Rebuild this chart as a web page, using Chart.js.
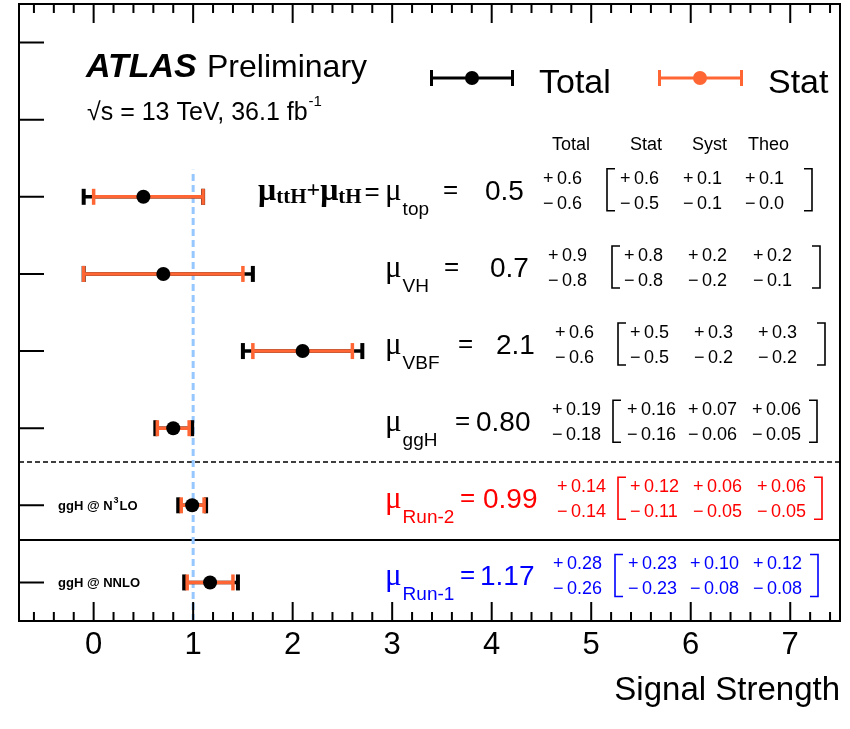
<!DOCTYPE html>
<html>
<head>
<meta charset="utf-8">
<script src="https://cdn.jsdelivr.net/npm/chart.js@4"></script>
<style>
  html, body { margin: 0; padding: 0; background: #fff; }
  #wrap { width: 850px; height: 729px; }
</style>
</head>
<body>
<div id="wrap"><canvas id="chart_mu" width="850" height="729"></canvas></div>
<script>
// signal strength per production mode, top row first
const rowSubs = ['top', 'VH', 'VBF', 'ggH', 'Run-2', 'Run-1'];
const rowY = [5.5, 4.5, 3.5, 2.5, 1.5, 0.5];
const muValues = [0.5, 0.7, 2.1, 0.80, 0.99, 1.17];
const decimals = [1, 1, 1, 2, 2, 2];
const totalUp = [0.6, 0.9, 0.6, 0.19, 0.14, 0.28];
const totalDown = [0.6, 0.8, 0.6, 0.18, 0.14, 0.26];
const statUp = [0.6, 0.8, 0.5, 0.16, 0.12, 0.23];
const statDown = [0.5, 0.8, 0.5, 0.16, 0.11, 0.23];
const systUp = [0.1, 0.2, 0.3, 0.07, 0.06, 0.10];
const systDown = [0.1, 0.2, 0.2, 0.06, 0.05, 0.08];
const theoUp = [0.1, 0.2, 0.3, 0.06, 0.06, 0.12];
const theoDown = [0.0, 0.1, 0.2, 0.05, 0.05, 0.08];
const rowColors = ['#000', '#000', '#000', '#000', '#ff0000', '#0000ff'];

const xLabels = [0, 1, 2, 3, 4, 5, 6, 7];
const yTicks = [0.5, 1.5, 2.5, 3.5, 4.5, 5.5, 6.5, 7.5];
const smValue = 1;
const smLineTop = 5.85;
const dashedSep = 2.06;
const solidSep = 1.05;

const ORANGE = '#ff6633';
const SANS = '"Liberation Sans", Arial, sans-serif';
const SERIF = '"Liberation Serif", "Times New Roman", serif';

// text columns, pixel x for each row
const eqX = [443, 444, 458, 455, 460, 460];
const valX = [485, 490, 496, 476, 483, 480];
const totX = [543, 548, 555, 552, 557, 553];
const lbX = [607, 612, 618, 613, 618, 615];
const statX = [620, 624, 630, 627, 630, 628];
const systX = [683, 688, 694, 688, 693, 690];
const theoX = [745, 753, 758, 752, 757, 753];
const rbX = [812, 820, 825, 817, 822, 818];

// error bars as broken line series: two ends then a gap
function barData(up, down) {
  const out = [];
  muValues.forEach((m, i) => {
    out.push({x: m - down[i], y: rowY[i]});
    out.push({x: m + up[i], y: rowY[i]});
    out.push({x: null, y: null});
  });
  return out;
}

function txt(ctx, s, x, y, font, color, align) {
  ctx.font = font;
  ctx.fillStyle = color || '#000';
  ctx.textAlign = align || 'left';
  ctx.textBaseline = 'alphabetic';
  ctx.fillText(s, x, y);
  return x + ctx.measureText(s).width;
}

function signed(ctx, sign, v, dec, x, y, color) {
  txt(ctx, sign, x, y, '18px ' + SANS, color);
  txt(ctx, v.toFixed(dec), x + 14, y, '18px ' + SANS, color);
}

function bracket(ctx, x, yc, left, color) {
  const d = left ? 8 : -8;
  ctx.strokeStyle = color;
  ctx.lineWidth = 1.6;
  ctx.beginPath();
  ctx.moveTo(x + d, yc - 28);
  ctx.lineTo(x, yc - 28);
  ctx.lineTo(x, yc + 14);
  ctx.lineTo(x + d, yc + 14);
  ctx.stroke();
}

const framePlugin = {
  id: 'frame',
  beforeDatasetsDraw(chart) {
    const {ctx, chartArea: a, scales: {y}} = chart;
    ctx.save();
    ctx.strokeStyle = '#000';
    ctx.lineWidth = 1.5;
    ctx.setLineDash([5, 3]);
    ctx.beginPath();
    ctx.moveTo(a.left, y.getPixelForValue(dashedSep));
    ctx.lineTo(a.right, y.getPixelForValue(dashedSep));
    ctx.stroke();
    ctx.setLineDash([]);
    ctx.lineWidth = 2;
    ctx.beginPath();
    ctx.moveTo(a.left, y.getPixelForValue(solidSep));
    ctx.lineTo(a.right, y.getPixelForValue(solidSep));
    ctx.stroke();
    ctx.restore();
  },
  afterDatasetsDraw(chart) {
    const {ctx, chartArea: a, scales: {x, y}} = chart;
    ctx.save();
    ctx.strokeStyle = '#000';
    ctx.lineWidth = 2;
    ctx.strokeRect(a.left, a.top, a.right - a.left, a.bottom - a.top);

    // inward ticks on bottom and top, minor every 0.2
    ctx.beginPath();
    for (let k = -3; k <= 37; k++) {
      const px = x.getPixelForValue(k * 0.2);
      const len = (k % 5 === 0) ? 19 : 9;
      ctx.moveTo(px, a.bottom); ctx.lineTo(px, a.bottom - len);
      ctx.moveTo(px, a.top); ctx.lineTo(px, a.top + len);
    }
    yTicks.forEach(v => {
      const py = y.getPixelForValue(v);
      ctx.moveTo(a.left, py); ctx.lineTo(a.left + 25, py);
    });
    ctx.stroke();

    // title block
    txt(ctx, 'ATLAS', 86, 77, 'italic bold 34px ' + SANS);
    txt(ctx, 'Preliminary', 207, 77, '32px ' + SANS);
    let e = txt(ctx, '\u221As = 13 TeV, 36.1 fb', 87, 120, '25px ' + SANS);
    txt(ctx, '-1', e + 1, 106, '15px ' + SANS);

    // legend
    const ly = 78;
    ctx.lineWidth = 3;
    ctx.strokeStyle = '#000';
    ctx.beginPath();
    ctx.moveTo(430, ly); ctx.lineTo(514, ly);
    ctx.moveTo(431.5, ly - 8); ctx.lineTo(431.5, ly + 8);
    ctx.moveTo(512.5, ly - 8); ctx.lineTo(512.5, ly + 8);
    ctx.stroke();
    ctx.fillStyle = '#000';
    ctx.beginPath(); ctx.arc(472, ly, 7, 0, Math.PI * 2); ctx.fill();
    txt(ctx, 'Total', 539, 93, '34px ' + SANS);
    ctx.strokeStyle = ORANGE;
    ctx.beginPath();
    ctx.moveTo(658, ly); ctx.lineTo(743, ly);
    ctx.moveTo(659.5, ly - 8); ctx.lineTo(659.5, ly + 8);
    ctx.moveTo(741.5, ly - 8); ctx.lineTo(741.5, ly + 8);
    ctx.stroke();
    ctx.fillStyle = ORANGE;
    ctx.beginPath(); ctx.arc(700, ly, 7, 0, Math.PI * 2); ctx.fill();
    txt(ctx, 'Stat', 768, 93, '34px ' + SANS);

    // column headers
    txt(ctx, 'Total', 552, 150, '18px ' + SANS);
    txt(ctx, 'Stat', 630, 150, '18px ' + SANS);
    txt(ctx, 'Syst', 692, 150, '18px ' + SANS);
    txt(ctx, 'Theo', 748, 150, '18px ' + SANS);

    // left-hand labels for the two ggH entries
    const n3 = y.getPixelForValue(rowY[4]) + 5;
    e = txt(ctx, 'ggH @ N', 58, n3, 'bold 13px ' + SANS);
    e = txt(ctx, '3', e + 1, n3 - 7, 'bold 9px ' + SANS);
    txt(ctx, 'LO', e + 1, n3, 'bold 13px ' + SANS);
    txt(ctx, 'ggH @ NNLO', 58, y.getPixelForValue(rowY[5]) + 5, 'bold 13px ' + SANS);

    // ttH + tH label
    const yt = y.getPixelForValue(rowY[0]) + 3;
    e = txt(ctx, '\u03BC', 258, yt, 'bold 32px ' + SERIF);
    e = txt(ctx, 'ttH', e, yt + 3, 'bold 21px ' + SERIF);
    e = txt(ctx, '+', e, yt - 3, 'bold 24px ' + SERIF);
    e = txt(ctx, '\u03BC', e, yt, 'bold 32px ' + SERIF);
    e = txt(ctx, 'tH', e, yt + 3, 'bold 21px ' + SERIF);
    txt(ctx, '=', e + 3, yt, '26px ' + SANS);

    // per-row result and uncertainty table
    rowSubs.forEach((sub, i) => {
      const yc = y.getPixelForValue(rowY[i]);
      const c = rowColors[i];
      const e2 = txt(ctx, '\u03BC', 385, yc + 3, '31px ' + SERIF, c);
      txt(ctx, sub, e2 + 1, yc + 18, '19px ' + SANS, c);
      txt(ctx, '=', eqX[i], yc + 1, '26px ' + SANS, c);
      txt(ctx, muValues[i].toFixed(decimals[i]), valX[i], yc + 3, '28px ' + SANS, c);
      const d = decimals[i];
      const up = yc - 13, lo = yc + 12;
      signed(ctx, '+', totalUp[i], d, totX[i], up, c);
      signed(ctx, '\u2212', totalDown[i], d, totX[i], lo, c);
      signed(ctx, '+', statUp[i], d, statX[i], up, c);
      signed(ctx, '\u2212', statDown[i], d, statX[i], lo, c);
      signed(ctx, '+', systUp[i], d, systX[i], up, c);
      signed(ctx, '\u2212', systDown[i], d, systX[i], lo, c);
      signed(ctx, '+', theoUp[i], d, theoX[i], up, c);
      signed(ctx, '\u2212', theoDown[i], d, theoX[i], lo, c);
      bracket(ctx, lbX[i], yc, true, c);
      bracket(ctx, rbX[i], yc, false, c);
    });
    ctx.restore();
  }
};

const capStyle = {
  showLine: true,
  spanGaps: false,
  pointStyle: 'line',
  pointRotation: 90,
  pointRadius: 8,
  pointHoverRadius: 8
};

new Chart(document.getElementById('chart_mu').getContext('2d'), {
  type: 'scatter',
  data: {
    datasets: [
      {
        label: 'mu',
        data: muValues.map((m, i) => ({x: m, y: rowY[i]})),
        backgroundColor: '#000',
        borderWidth: 0,
        pointRadius: 7,
        pointHoverRadius: 7,
        order: 0
      },
      Object.assign({
        label: 'Stat',
        data: barData(statUp, statDown),
        borderColor: ORANGE,
        borderWidth: 3.5,
        pointBorderColor: ORANGE,
        pointBorderWidth: 3.5,
        order: 1
      }, capStyle),
      Object.assign({
        label: 'Total',
        data: barData(totalUp, totalDown),
        borderColor: '#000',
        borderWidth: 3.5,
        pointBorderColor: '#000',
        pointBorderWidth: 4,
        order: 2
      }, capStyle),
      {
        label: 'SM',
        data: [{x: smValue, y: 0}, {x: smValue, y: smLineTop}],
        showLine: true,
        borderColor: '#96c8ff',
        borderWidth: 3,
        borderDash: [7, 4],
        pointRadius: 0,
        order: 3
      }
    ]
  },
  options: {
    responsive: false,
    animation: false,
    devicePixelRatio: 1,
    layout: {autoPadding: false, padding: {left: 19, right: 10, top: 4, bottom: 0}},
    plugins: {legend: {display: false}, tooltip: {enabled: false}},
    scales: {
      x: {
        type: 'linear',
        min: -0.75,
        max: 7.5,
        afterBuildTicks: axis => { axis.ticks = xLabels.map(v => ({value: v})); },
        afterFit: axis => { axis.height = 108; },
        grid: {display: false, drawTicks: false},
        border: {display: false},
        ticks: {
          autoSkip: false,
          maxRotation: 0,
          padding: 6,
          color: '#000',
          font: {family: SANS, size: 31}
        },
        title: {
          display: true,
          text: 'Signal Strength',
          align: 'end',
          color: '#000',
          font: {family: SANS, size: 33},
          padding: {top: 0, bottom: 18}
        }
      },
      y: {type: 'linear', min: 0, max: 8, display: false}
    }
  },
  plugins: [framePlugin]
});
</script>
</body>
</html>
